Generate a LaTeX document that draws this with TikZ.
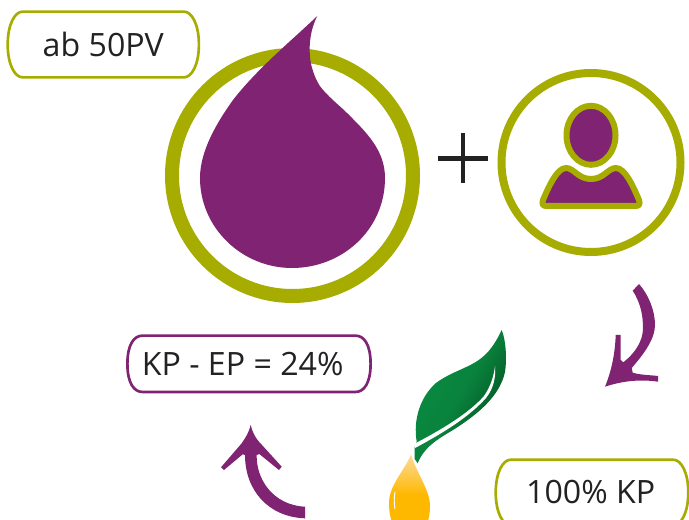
\documentclass[tikz,border=0pt]{standalone}
\usepackage{fontspec}
\setmainfont{Open Sans}
\usetikzlibrary{calc}
\definecolor{plum}{HTML}{802373}
\definecolor{olive}{HTML}{A6AD00}
\definecolor{ink}{HTML}{222222}
\definecolor{leafdark}{HTML}{034A1E}
\definecolor{leaflight}{HTML}{0A8C42}
\definecolor{oiltop}{HTML}{FDDB9C}
\definecolor{oilbottom}{HTML}{FFB800}
\tikzset{
  labelbox/.style={inner sep=0pt,text=ink,font=\fontsize{24.1}{28}\selectfont},
  ring/.style={draw=olive,fill=white},
  arrowshape/.style={fill=plum,draw=none},
  personpart/.style={fill=plum,draw=olive,line width=4.5pt,line join=round},
}
\newcommand{\lensbox}[2]{%
  \draw[#2,line width=2pt]
    (#1.west) .. controls +(0,-20) and +(-8,0) .. ($(#1.north west)+(15,0)$)
    -- ($(#1.north east)+(-15,0)$)
    .. controls +(8,0) and +(0,-20) .. (#1.east)
    .. controls +(0,20) and +(8,0) .. ($(#1.south east)+(-15,0)$)
    -- ($(#1.south west)+(15,0)$)
    .. controls +(-8,0) and +(0,20) .. (#1.west) -- cycle;}
\begin{document}
\begin{tikzpicture}[x=0.75pt,y=-0.75pt]
\clip (0,0) rectangle (689,520);
% big ring and drop
\draw[ring,line width=10.5pt] (292.5,175.5) circle (120.5);
\fill[plum] (317.3,16)
  .. controls (310,30) and (308,48) .. (311,64)
  .. controls (314,76) and (318,85) .. (324,91)
  .. controls (332,100) and (340,106) .. (347,113)
  .. controls (366,132) and (385,150) .. (385,178)
  .. controls (385,230) and (342,268) .. (292,268)
  .. controls (242,268) and (200,228) .. (200,178)
  .. controls (200,150) and (218,121) .. (233,100)
  .. controls (258,68) and (290,42) .. (317.3,16) -- cycle;
% plus
\draw[ink,line width=3.4pt] (438.3,158.3) -- (488,158.3) (463,133.3) -- (463,183.3);
% person
\draw[ring,line width=6pt] (591,162.5) circle (89.5);
\draw[personpart] (591,135.3) ellipse (24.5 and 29.5);
\draw[personpart] (546,206)
  .. controls (542,206) and (542,203) .. (543,200)
  .. controls (549,186) and (557,168) .. (566,168)
  .. controls (574,168) and (578,179) .. (591,179)
  .. controls (604,179) and (608,168) .. (616,168)
  .. controls (625,168) and (633,186) .. (639,200)
  .. controls (640,203) and (640,206) .. (636,206) -- cycle;
% text boxes
\node[labelbox,minimum width=143pt,minimum height=48.9pt] (ab) at (103.3,44.5) {ab 50PV};
\lensbox{ab}{olive}
\node[labelbox,minimum width=182pt,minimum height=41.8pt] (kp) at (249,363.8) {\hspace{-9.5pt}\raisebox{-0.7pt}{KP - EP = 24\%}};
\lensbox{kp}{plum}
\node[labelbox,minimum width=144pt,minimum height=48.75pt] (full) at (592,492.5) {\hspace{-2pt}\raisebox{-2.2pt}{100\% KP}};
\lensbox{full}{olive}
% right arrow
\fill[arrowshape] (639,284)
  .. controls (648,294) and (655,310) .. (655,325)
  .. controls (655,340) and (642,356) .. (631.7,368)
  -- (632.7,372.7)
  .. controls (640,375) and (650,375) .. (658,376)
  -- (658,381.7)
  .. controls (640,379) and (622,381) .. (605,386.7)
  .. controls (611,372) and (615,355) .. (615.7,335)
  -- (620.7,335) -- (620.7,360) -- (623.3,362.3)
  .. controls (634,354) and (643,342) .. (643,328)
  .. controls (643,314) and (640,302) .. (632.7,290.7) -- cycle;
% left arrow
\fill[arrowshape] (250.7,425)
  .. controls (253,435) and (258,441) .. (262,445)
  -- (281.7,466.7) -- (279,470) -- (259.3,454) -- (256.7,455)
  .. controls (256,478) and (272,505) .. (305,506.7)
  -- (305,518.3)
  .. controls (268,517) and (245,490) .. (245,455)
  -- (242.7,454.3) -- (224,470) -- (221,467.3) -- (241.7,443.3)
  .. controls (246,437) and (249,432) .. (250.7,425) -- cycle;
% leaf
\shade[left color=leaflight,right color=leafdark,shading angle=60,middle color=leaflight!85!leafdark] (501.7,330)
  .. controls (506,340) and (507,360) .. (505,372)
  .. controls (500,395) and (480,413) .. (453,430)
  .. controls (438,439) and (424,447) .. (417.7,463.3)
  -- (414.7,459) -- (414.7,447)
  -- (416.7,441.7)
  .. controls (413,420) and (420,397) .. (436,383)
  .. controls (452,371) and (470,368) .. (483,356.7)
  .. controls (491,350) and (497,340) .. (501.7,330) -- cycle;
\fill[white] (414,444) .. controls (445,428) and (470,412) .. (484,396)
  .. controls (491,386) and (494,375) .. (495,366)
  .. controls (496,376) and (494,388) .. (486,398)
  .. controls (470,416) and (445,432) .. (415,448) -- cycle;
% oil drop
\shade[top color=oiltop,bottom color=oilbottom,middle color=oilbottom] (411,454.3)
  .. controls (405,470) and (389,485) .. (389,503)
  .. controls (389,525) and (398,536) .. (410,536)
  .. controls (422,536) and (430,525) .. (430,506)
  .. controls (430,490) and (416,472) .. (411,454.3) -- cycle;
\draw[white,line width=0.7pt] (395,492) .. controls (394,498) and (394,503) .. (395,509);
\end{tikzpicture}
\end{document}
